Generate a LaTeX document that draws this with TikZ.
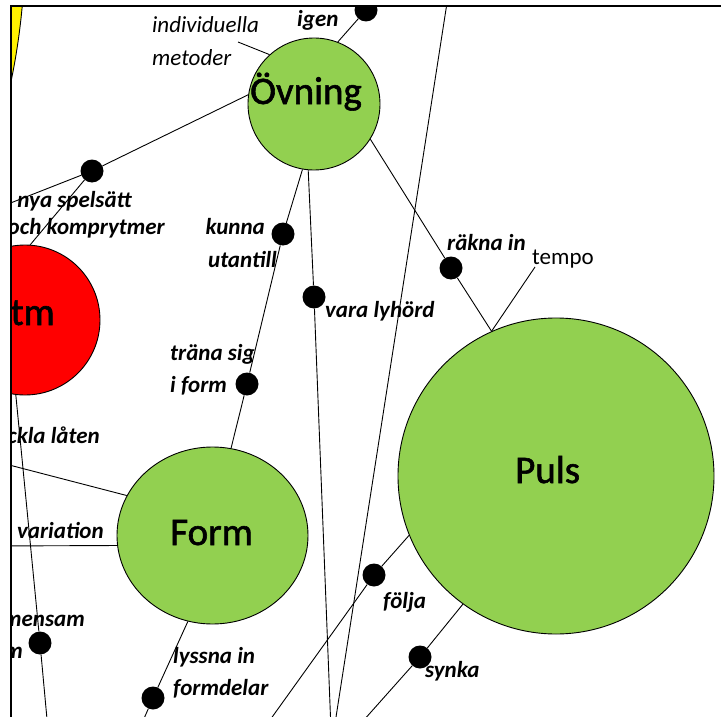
\documentclass[tikz,border=0pt]{standalone}
\usepackage{fontspec}
\setmainfont{Carlito}
\newfontfamily\bigfont{Carlito}[FakeBold=1.5]
\usetikzlibrary{shapes.geometric}
\definecolor{lgreen}{HTML}{92D050}
\begin{document}
\begin{tikzpicture}[x=1pt,y=-1pt,
  conn/.style={line width=0.9pt},
  bigc/.style={circle,draw=black,line width=0.9pt,inner sep=0pt},
  dotn/.style={circle,fill=black,minimum size=23pt,inner sep=0pt},
  lbl/.style={inner sep=0pt,font=\fontsize{23}{27}\selectfont\bfseries\itshape},
  ilbl/.style={inner sep=0pt,font=\fontsize{23}{27}\selectfont\itshape},
  rlbl/.style={inner sep=0pt,font=\fontsize{23}{27}\selectfont},
  biglbl/.style={inner sep=0pt,font=\bigfont\fontsize{39}{44}\selectfont}]
\useasboundingbox (0,0) rectangle (721,717);
\fill[white] (0,0) rectangle (721,717);
\begin{scope}
\clip (11,6) rectangle (721,717);
\draw[fill=yellow,line width=0.9pt] (-642,-55) circle[radius=667];
% big nodes
\node[bigc,fill=lgreen,minimum size=132pt] (ovning) at (314,104) {};
\node[bigc,fill=red,minimum size=150pt] (rytm) at (25,320) {};
\node[bigc,fill=lgreen,minimum size=316pt] (puls) at (556,476) {};
\node[ellipse,draw=black,line width=0.9pt,fill=lgreen,minimum width=191pt,minimum height=177pt,inner sep=0pt] (form) at (212.5,535.5) {};
% dots
\node[dotn] (dIgen) at (366,10) {};
\node[dotn] (dNya) at (92,171) {};
\node[dotn] (dKunna) at (283,234) {};
\node[dotn] (dVara) at (314,297) {};
\node[dotn] (dRakna) at (451,268) {};
\node[dotn] (dTrana) at (247,384) {};
\node[dotn] (dGem) at (40,643) {};
\node[dotn] (dLyssna) at (153,698) {};
\node[dotn] (dFolja) at (374,575) {};
\node[dotn] (dSynka) at (420,657) {};
% free ends
\coordinate (eNya) at (-20,215);
\coordinate (eGem) at (48,730);
\coordinate (eLyssna) at (139,730);
\coordinate (eFolja) at (265,727);
\coordinate (eSynka) at (355,730);
\coordinate (eVara) at (331,730);
\coordinate (eLongTop) at (449,-10);
\coordinate (eLongBot) at (334,730);
\coordinate (eUtv) at (-10,460);
\coordinate (eVar) at (-10,546);
\coordinate (eIndiv) at (238,42);
\coordinate (eTempo) at (535,267);
% connectors
\draw[conn] (ovning.69) -- (dIgen);
\draw[conn] (eIndiv) -- (ovning.132);
\draw[conn] (ovning.172) -- (dNya) -- (rytm.86);
\draw[conn] (dNya) -- (eNya);
\draw[conn] (ovning.260) -- (dKunna) -- (dTrana) -- (form.78);
\draw[conn] (ovning.265) -- (dVara) -- (eVara);
\draw[conn] (ovning.328) -- (dRakna) -- (puls.114);
\draw[conn] (eTempo) -- (puls.114);
\draw[conn] (puls.202) -- (dFolja) -- (eFolja);
\draw[conn] (puls.234) -- (dSynka) -- (eSynka);
\draw[conn] (eLongTop) -- (eLongBot);
\draw[conn] (form.155) -- (eUtv);
\draw[conn] (form.186) -- (eVar);
\draw[conn] (form.254) -- (dLyssna) -- (eLyssna);
\draw[conn] (rytm.263) -- (dGem) -- (eGem);
% big labels
\node[biglbl,anchor=base west] (tOvning) at (250,104) {Övning};
\node[biglbl,anchor=base west] (tForm) at (170,545) {Form};
\node[biglbl,anchor=base west] (tPuls) at (515,483) {Puls};
\node[biglbl,anchor=base east] (tRytm) at (55,325) {Rytm};
% small labels
\node[lbl,anchor=base west] (tIgen) at (297,27) {igen};
\node[ilbl,anchor=base west] (tIndiv1) at (152,33) {individuella};
\node[ilbl,anchor=base west] (tIndiv2) at (152,66) {metoder};
\node[lbl,anchor=base east] (tNya1) at (132,207) {nya spelsätt};
\node[lbl,anchor=base east] (tNya2) at (165,234) {och komprytmer};
\node[lbl,anchor=base east] (tKunna1) at (265,234) {kunna};
\node[lbl,anchor=base east] (tKunna2) at (277,267) {utantill};
\node[lbl,anchor=base west] (tVara) at (325,317) {vara lyhörd};
\node[lbl,anchor=base west] (tRakna) at (447,250) {räkna in};
\node[rlbl,anchor=base west] (tTempo) at (532,264) {tempo};
\node[lbl,anchor=base west] (tTrana1) at (170,360) {träna sig};
\node[lbl,anchor=base west] (tTrana2) at (170,392) {i form};
\node[lbl,anchor=base east] (tUtv) at (100,443) {utveckla låten};
\node[lbl,anchor=base west] (tVar) at (17,538) {variation};
\node[lbl,anchor=base east] (tGem1) at (85,626) {gemensam};
\node[lbl,anchor=base east] (tGem2) at (23,658) {rytm};
\node[lbl,anchor=base west] (tLyssna1) at (173,663) {lyssna in};
\node[lbl,anchor=base west] (tLyssna2) at (173,695) {formdelar};
\node[lbl,anchor=base west] (tFolja) at (383,608) {följa};
\node[lbl,anchor=base west] (tSynka) at (425,677) {synka};
\end{scope}
\draw[line width=2pt] (11,717) -- (11,6) -- (721,6);
\end{tikzpicture}
\end{document}
